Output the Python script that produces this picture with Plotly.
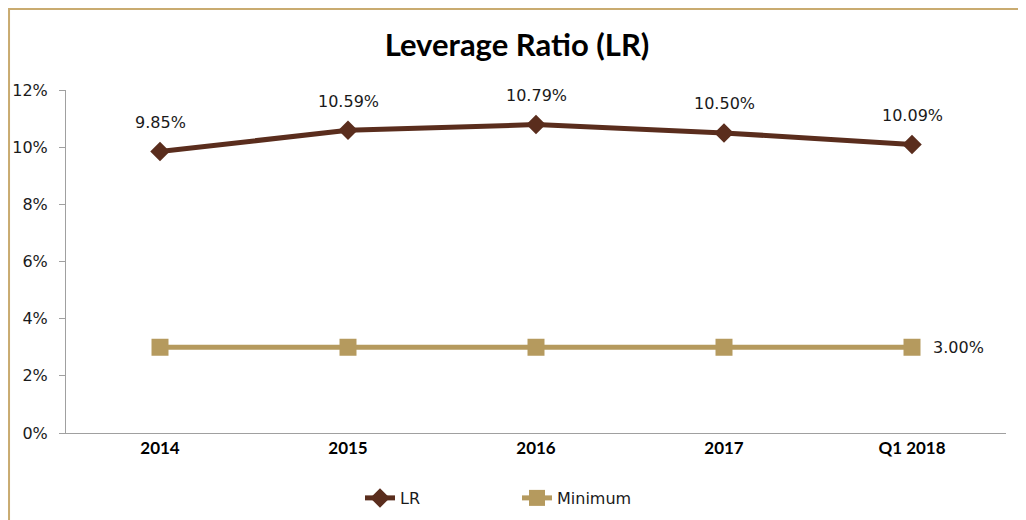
import plotly.graph_objects as go

years = ["2014", "2015", "2016", "2017", "Q1 2018"]
lr = [9.85, 10.59, 10.79, 10.50, 10.09]
minimum = [3.00, 3.00, 3.00, 3.00, 3.00]
y_ticks = [0, 2, 4, 6, 8, 10, 12]

LR_COLOR = "#5a2d1d"
MIN_COLOR = "#b59a5e"
label_font = dict(family="DejaVu Sans", size=16, color="#1a1a1a")

fig = go.Figure()
fig.add_trace(go.Scatter(
    x=years, y=lr, name="LR", mode="lines+markers",
    line=dict(color=LR_COLOR, width=5),
    marker=dict(symbol="diamond", size=15, color=LR_COLOR),
))
fig.add_trace(go.Scatter(
    x=years, y=minimum, name="Minimum", mode="lines+markers",
    line=dict(color=MIN_COLOR, width=5),
    marker=dict(symbol="square", size=17, color=MIN_COLOR),
))

# data labels (category index as x, since "2014" would be read as a number)
for i, v in enumerate(lr):
    fig.add_annotation(x=i, y=v, text=f"{v:.2f}%", showarrow=False,
                       yshift=29, font=label_font)
fig.add_annotation(x=len(minimum) - 1, y=minimum[-1], text=f"{minimum[-1]:.2f}%",
                   showarrow=False, xshift=46, font=label_font)

fig.update_layout(
    width=1018, height=512,
    margin=dict(l=58, r=20, t=82, b=87),
    paper_bgcolor="white", plot_bgcolor="white",
    title=dict(text="<b>Leverage Ratio (LR)</b>", x=0.5, xanchor="center",
               y=0.928, yanchor="middle",
               font=dict(family="Liberation Sans Narrow, Lato", size=31, color="black")),
    showlegend=True,
    legend=dict(orientation="h", x=0.5, xanchor="center", xref="container",
                y=0.043, yanchor="middle", yref="container",
                font=dict(family="DejaVu Sans", size=16, color="#1a1a1a"),
                entrywidth=112),
    xaxis=dict(range=[-0.5, 4.5], showline=True, linecolor="#a0a0a0", linewidth=1,
               showgrid=False, ticks="", automargin=False,
               tickfont=dict(family="Liberation Sans Narrow, Lato", size=17, color="black"),
               tickprefix="<b>", ticksuffix="</b>"),
    yaxis=dict(range=[0, 12], tickvals=y_ticks, ticktext=[f"{v}%" for v in y_ticks],
               showline=True, linecolor="#a0a0a0", linewidth=1, showgrid=False,
               ticks="outside", ticklen=6, tickcolor="#a0a0a0", zeroline=False,
               automargin=False, ticklabelstandoff=8,
               tickfont=dict(family="DejaVu Sans", size=16, color="#1a1a1a")),
    shapes=[dict(type="rect", xref="paper", yref="paper",
                 x0=-0.0606, x1=1.0149, y0=-0.3, y1=1.236,
                 line=dict(color="#c9ab70", width=2), layer="below")],
)

fig.write_html("out.html")
